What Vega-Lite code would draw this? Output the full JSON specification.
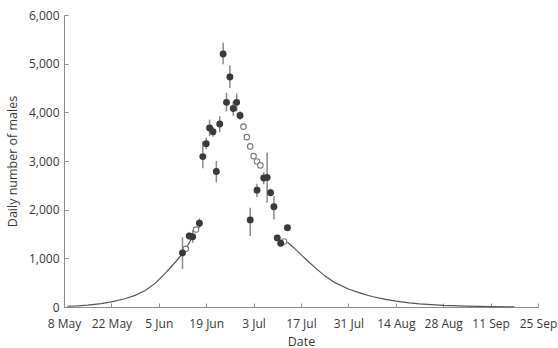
{
  "$schema": "https://vega.github.io/schema/vega-lite/v6.json",
  "autosize": "none",
  "padding": {"left": 64, "top": 15, "right": 20, "bottom": 41},
  "width": 474,
  "height": 292,
  "background": "white",
  "config": {
    "view": {"stroke": null},
    "font": "Open Sans",
    "axis": {
      "grid": false,
      "domainColor": "#8c8c8c",
      "tickColor": "#8c8c8c",
      "labelColor": "#3a3a3a",
      "titleColor": "#3a3a3a",
      "labelFont": "Open Sans",
      "titleFont": "Open Sans",
      "labelFontSize": 12,
      "titleFontSize": 12.5,
      "titleFontWeight": "normal",
      "labelFlush": false,
      "tickSize": -4
    }
  },
  "datasets": {
    "curve": [
      {"seg": "a", "date": "2010-05-09", "value": 15},
      {"seg": "a", "date": "2010-05-12", "value": 25},
      {"seg": "a", "date": "2010-05-15", "value": 40},
      {"seg": "a", "date": "2010-05-19", "value": 70},
      {"seg": "a", "date": "2010-05-22", "value": 105},
      {"seg": "a", "date": "2010-05-26", "value": 170},
      {"seg": "a", "date": "2010-05-29", "value": 240},
      {"seg": "a", "date": "2010-06-01", "value": 340},
      {"seg": "a", "date": "2010-06-04", "value": 490},
      {"seg": "a", "date": "2010-06-07", "value": 700},
      {"seg": "a", "date": "2010-06-10", "value": 930},
      {"seg": "a", "date": "2010-06-12", "value": 1100},
      {"seg": "a", "date": "2010-06-13", "value": 1195},
      {"seg": "a", "date": "2010-06-14", "value": 1320},
      {"seg": "a", "date": "2010-06-15", "value": 1450},
      {"seg": "b", "date": "2010-07-13", "value": 1330},
      {"seg": "b", "date": "2010-07-14", "value": 1270},
      {"seg": "b", "date": "2010-07-15", "value": 1210},
      {"seg": "b", "date": "2010-07-17", "value": 1075},
      {"seg": "b", "date": "2010-07-19", "value": 945},
      {"seg": "b", "date": "2010-07-21", "value": 820},
      {"seg": "b", "date": "2010-07-24", "value": 640},
      {"seg": "b", "date": "2010-07-27", "value": 500},
      {"seg": "b", "date": "2010-07-31", "value": 370},
      {"seg": "b", "date": "2010-08-04", "value": 275},
      {"seg": "b", "date": "2010-08-07", "value": 215},
      {"seg": "b", "date": "2010-08-11", "value": 155},
      {"seg": "b", "date": "2010-08-14", "value": 120},
      {"seg": "b", "date": "2010-08-18", "value": 85},
      {"seg": "b", "date": "2010-08-21", "value": 65},
      {"seg": "b", "date": "2010-08-28", "value": 35},
      {"seg": "b", "date": "2010-09-04", "value": 18},
      {"seg": "b", "date": "2010-09-11", "value": 9},
      {"seg": "b", "date": "2010-09-18", "value": 4}
    ],
    "obs": [
      {"date": "2010-06-12", "value": 1110, "lo": 780, "hi": 1430},
      {"date": "2010-06-14", "value": 1460, "lo": 1390, "hi": 1530},
      {"date": "2010-06-15", "value": 1445, "lo": 1320, "hi": 1580},
      {"date": "2010-06-17", "value": 1720, "lo": 1620, "hi": 1820},
      {"date": "2010-06-18", "value": 3090, "lo": 2850, "hi": 3400},
      {"date": "2010-06-19", "value": 3357, "lo": 3240, "hi": 3480},
      {"date": "2010-06-20", "value": 3680, "lo": 3510, "hi": 3850},
      {"date": "2010-06-21", "value": 3600, "lo": 3500, "hi": 3700},
      {"date": "2010-06-22", "value": 2785, "lo": 2560, "hi": 3000},
      {"date": "2010-06-23", "value": 3760, "lo": 3590, "hi": 3920},
      {"date": "2010-06-24", "value": 5200, "lo": 4990, "hi": 5430},
      {"date": "2010-06-25", "value": 4205, "lo": 4020, "hi": 4400},
      {"date": "2010-06-26", "value": 4727, "lo": 4500, "hi": 4960},
      {"date": "2010-06-27", "value": 4080, "lo": 3930, "hi": 4230},
      {"date": "2010-06-28", "value": 4205, "lo": 4020, "hi": 4390},
      {"date": "2010-06-29", "value": 3935, "lo": 3850, "hi": 4020},
      {"date": "2010-07-02", "value": 1790, "lo": 1460, "hi": 2040},
      {"date": "2010-07-04", "value": 2400, "lo": 2260, "hi": 2530},
      {"date": "2010-07-06", "value": 2650, "lo": 2520, "hi": 2770},
      {"date": "2010-07-07", "value": 2660, "lo": 2140, "hi": 3170},
      {"date": "2010-07-08", "value": 2350, "lo": 2270, "hi": 2430},
      {"date": "2010-07-09", "value": 2060, "lo": 1800, "hi": 2280},
      {"date": "2010-07-10", "value": 1420, "lo": 1380, "hi": 1460},
      {"date": "2010-07-11", "value": 1310, "lo": 1270, "hi": 1350},
      {"date": "2010-07-13", "value": 1630, "lo": 1590, "hi": 1670}
    ],
    "open": [
      {"date": "2010-06-13", "value": 1195},
      {"date": "2010-06-16", "value": 1590},
      {"date": "2010-06-30", "value": 3706},
      {"date": "2010-07-01", "value": 3490},
      {"date": "2010-07-02", "value": 3300},
      {"date": "2010-07-03", "value": 3100},
      {"date": "2010-07-04", "value": 2990},
      {"date": "2010-07-05", "value": 2910},
      {"date": "2010-07-12", "value": 1345}
    ]
  },
  "encoding": {
    "x": {
      "field": "date",
      "type": "temporal",
      "title": "Date",
      "scale": {
        "type": "utc",
        "domain": [
          {"year": 2010, "month": 5, "date": 8, "utc": true},
          {"year": 2010, "month": 9, "date": 25, "utc": true}
        ]
      },
      "axis": {
        "labelExpr": "utcFormat(datum.value, '%-d %b')",
        "labelPadding": 15,
        "titlePadding": 6,
        "labelOverlap": false,
        "values": [
          {"year": 2010, "month": 5, "date": 8, "utc": true},
          {"year": 2010, "month": 5, "date": 22, "utc": true},
          {"year": 2010, "month": 6, "date": 5, "utc": true},
          {"year": 2010, "month": 6, "date": 19, "utc": true},
          {"year": 2010, "month": 7, "date": 3, "utc": true},
          {"year": 2010, "month": 7, "date": 17, "utc": true},
          {"year": 2010, "month": 7, "date": 31, "utc": true},
          {"year": 2010, "month": 8, "date": 14, "utc": true},
          {"year": 2010, "month": 8, "date": 28, "utc": true},
          {"year": 2010, "month": 9, "date": 11, "utc": true},
          {"year": 2010, "month": 9, "date": 25, "utc": true}
        ]
      }
    },
    "y": {
      "field": "value",
      "type": "quantitative",
      "title": "Daily number of males",
      "scale": {"domain": [0, 6000], "nice": false},
      "axis": {
        "values": [0, 1000, 2000, 3000, 4000, 5000, 6000],
        "labelExpr": "format(datum.value, ',')",
        "labelPadding": 9,
        "titlePadding": 9
      }
    }
  },
  "layer": [
    {
      "data": {"name": "curve"},
      "mark": {"type": "line", "color": "#555555", "strokeWidth": 1.2},
      "encoding": {"detail": {"field": "seg"}}
    },
    {
      "data": {"name": "obs"},
      "mark": {"type": "rule", "color": "#8a8a8a", "strokeWidth": 1.5},
      "encoding": {
        "y": {"field": "lo", "type": "quantitative"},
        "y2": {"field": "hi"}
      }
    },
    {
      "data": {"name": "open"},
      "mark": {"type": "point", "shape": "circle", "filled": false, "fill": "white", "stroke": "#7a7a7a", "strokeWidth": 1.1, "size": 30, "opacity": 1}
    },
    {
      "data": {"name": "obs"},
      "mark": {"type": "circle", "color": "#3a3a3a", "size": 48, "opacity": 1}
    }
  ]
}
